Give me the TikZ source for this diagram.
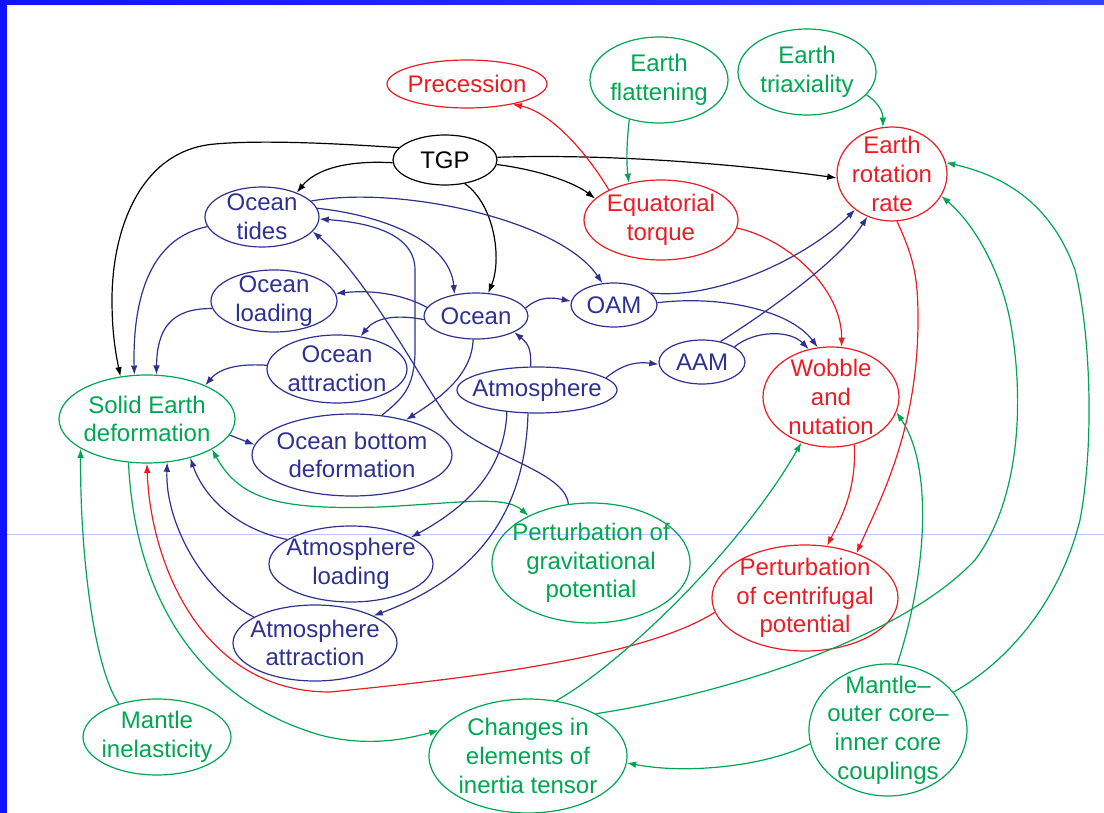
\documentclass[tikz,border=0pt]{standalone}
\usepackage{fontspec}
\setmainfont{Liberation Sans}
\usetikzlibrary{shapes.geometric,arrows.meta}
\definecolor{nblue}{RGB}{46,49,146}
\definecolor{nred}{RGB}{237,28,36}
\definecolor{ngreen}{RGB}{0,166,81}
\definecolor{frameblue}{RGB}{18,18,255}
\definecolor{frameblueb}{RGB}{52,66,255}
\definecolor{thinline}{RGB}{185,200,255}
\tikzset{
  nd/.style={ellipse, draw, line width=0.9pt, inner xsep=-14pt, inner ysep=-12pt,
    align=center, font=\fontsize{18}{21.5}\selectfont},
  sz/.style 2 args={minimum width=#1*1.5pt, minimum height=#2*1.5pt},
  bnode/.style={nd, draw=nblue, text=nblue},
  rnode/.style={nd, draw=nred, text=nred},
  gnode/.style={nd, draw=ngreen, text=ngreen},
  knode/.style={nd, draw=black, text=black},
  arr/.style={line width=0.9pt, -{Latex[length=7pt,width=5pt]}},
  biarr/.style={line width=0.9pt, {Latex[length=7pt,width=5pt]}-{Latex[length=7pt,width=5pt]}},
}
\begin{document}
\begin{tikzpicture}[x=0.75pt,y=-0.75pt]
\useasboundingbox (0,0) rectangle (1104,813);
% slide frame
\fill[frameblue] (0,0) rectangle (7,813);
\shade[left color=frameblue, right color=frameblueb] (0,0) rectangle (1104,4.5);
\draw[thinline, line width=0.75pt] (7,534) -- (1104,534);

% nodes
\node[rnode, sz={80}{24}] (prec) at (467,84) {Precession};
\node[gnode, sz={69}{43}] (flat) at (659,80) {Earth\\flattening};
\node[gnode, sz={69}{43}] (tria) at (807,72) {Earth\\triaxiality};
\node[rnode, sz={55}{47}] (err) at (892,174) {Earth\\rotation\\rate};
\node[knode, sz={52}{25}] (tgp) at (445,160) {TGP};
\node[rnode, sz={77}{40}] (eqt) at (661,220) {Equatorial\\torque};
\node[bnode, sz={57}{30}] (otide) at (262,217) {Ocean\\tides};
\node[bnode, sz={63}{31}] (oload) at (274,301) {Ocean\\loading};
\node[bnode, sz={70}{34}] (oattr) at (337,369) {Ocean\\attraction};
\node[bnode, sz={52}{23}] (ocean) at (476,316) {Ocean};
\node[bnode, sz={43}{22}] (oam) at (614,305) {OAM};
\node[bnode, sz={43}{22}] (aam) at (702,362) {AAM};
\node[bnode, sz={80}{23}] (atm) at (537,390) {Atmosphere};
\node[rnode, sz={68}{50}] (wob) at (831,397) {Wobble\\and\\nutation};
\node[gnode, sz={88}{44}] (sed) at (147,419) {Solid Earth\\deformation};
\node[bnode, sz={100}{41}] (obd) at (352,455) {Ocean bottom\\deformation};
\node[gnode, sz={99}{60}] (pgp) at (591,563) {Perturbation of\\gravitational\\potential};
\node[bnode, sz={82}{38}] (aload) at (351,564) {Atmosphere\\loading};
\node[bnode, sz={82}{38}] (aattr) at (315,643) {Atmosphere\\attraction};
\node[rnode, sz={93}{53}] (pcp) at (805,598) {Perturbation\\of centrifugal\\potential};
\node[gnode, sz={74}{38}] (mine) at (157,737) {Mantle\\inelasticity};
\node[gnode, sz={99}{57}] (cit) at (528,756) {Changes in\\elements of\\inertia tensor};
\node[gnode, sz={79}{66}] (moic) at (888,730) {Mantle--\\outer core--\\inner core\\couplings};

% black connectors
\draw[arr] (tgp.183) .. controls (345,160) and (315,170) .. (otide.35);
\draw[arr] (tgp.165) .. controls (330,143) and (260,140) .. (215,144) .. controls (140,150) and (112,230) .. (112,300) .. controls (112,330) and (115,350) .. (sed.122);
\draw[arr] (tgp.-50) .. controls (495,205) and (502,260) .. (ocean.62);
\draw[arr] (tgp.-5) .. controls (540,170) and (575,183) .. (eqt.162);
\draw[arr] (tgp.3) .. controls (600,154) and (720,162) .. (err.184);

% red connectors
\draw[arr,nred] (eqt.150) .. controls (585,150) and (550,112) .. (prec.-24);
\draw[arr,nred] (eqt.-6) .. controls (790,240) and (842,290) .. (wob.78);
\draw[arr,nred] (err.-84) .. controls (915,260) and (918,280) .. (918,320) .. controls (918,430) and (880,500) .. (pcp.41);
\draw[arr,nred] (wob.-64) .. controls (857,490) and (840,520) .. (pcp.67);
\draw[arr,nred] (pcp.189) .. controls (640,660) and (450,680) .. (330,692) .. controls (200,692) and (150,560) .. (sed.-90);

% green connectors
\draw[arr,ngreen] (flat.233) .. controls (627,140) and (626,160) .. (eqt.131);
\draw[arr,ngreen] (tria.-21) .. controls (878,102) and (883,112) .. (err.101);
\draw[arr,ngreen] (mine.139) .. controls (95,670) and (80,560) .. (sed.204);
\draw[arr,ngreen] (sed.247) .. controls (135,600) and (200,700) .. (320,735) .. controls (370,748) and (410,738) .. (cit.164);
\draw[biarr,ngreen] (sed.-25) .. controls (240,500) and (280,510) .. (380,507) .. controls (460,503) and (505,495) .. (pgp.143);
\draw[arr,ngreen] (cit.63) .. controls (620,665) and (740,550) .. (wob.237);
\draw[arr,ngreen] (cit.32) .. controls (720,695) and (900,640) .. (975,560) .. controls (1020,500) and (1025,400) .. (1010,320) .. controls (1000,270) and (975,225) .. (err.-24);
\draw[arr,ngreen] (moic.30) .. controls (1010,660) and (1060,600) .. (1080,520) .. controls (1095,440) and (1090,330) .. (1075,270) .. controls (1050,200) and (1000,175) .. (err.12);
\draw[arr,ngreen] (moic.82) .. controls (925,580) and (935,470) .. (wob.-13);
\draw[arr,ngreen] (moic.190) .. controls (770,765) and (690,775) .. (cit.-4);

% blue connectors
\draw[arr,nblue] (otide.190) .. controls (140,240) and (133,320) .. (sed.106);
\draw[arr,nblue] (oload.187) .. controls (170,308) and (157,330) .. (sed.78);
\draw[arr,nblue] (oattr.177) .. controls (235,363) and (218,370) .. (sed.30);
\draw[arr,nblue] (ocean.170) .. controls (400,293) and (370,290) .. (oload.7);
\draw[arr,nblue] (ocean.184) .. controls (395,314) and (375,318) .. (oattr.54);
\draw[arr,nblue] (ocean.263) .. controls (472,375) and (440,398) .. (obd.33);
\draw[arr,nblue] (atm.105) .. controls (531,352) and (530,345) .. (ocean.-23);
\draw[arr,nblue] (atm.10) .. controls (625,362) and (640,362) .. (aam.183);
\draw[arr,nblue] (ocean.9) .. controls (540,295) and (555,298) .. (oam.175);
\draw[arr,nblue] (oam.3) .. controls (720,295) and (790,310) .. (wob.105);
\draw[arr,nblue] (oam.18) .. controls (720,300) and (810,255) .. (err.224);
\draw[arr,nblue] (aam.25) .. controls (755,330) and (790,330) .. (wob.115);
\draw[arr,nblue] (aam.48) .. controls (770,310) and (840,260) .. (err.240);
\draw[arr,nblue] (otide.9) .. controls (380,215) and (450,240) .. (ocean.135);
\draw[arr,nblue] (otide.18) .. controls (400,185) and (560,220) .. (oam.118);
\draw[arr,nblue] (obd.53) .. controls (400,400) and (415,390) .. (415,350) -- (415,270) .. controls (415,230) and (360,222) .. (otide.-2);
\draw[arr,nblue] (pgp.111) .. controls (565,470) and (480,455) .. (450,420) .. controls (430,397) and (370,280) .. (otide.-16);
\draw[arr,nblue] (atm.216) .. controls (505,460) and (480,500) .. (aload.24);
\draw[arr,nblue] (atm.249) .. controls (525,520) and (470,580) .. (aattr.25);
\draw[arr,nblue] (aload.159) .. controls (240,530) and (205,500) .. (sed.-42);
\draw[arr,nblue] (aattr.157) .. controls (200,590) and (165,520) .. (sed.-65);
\draw[arr,nblue] (sed.-11) -- (obd.174);
\end{tikzpicture}
\end{document}
